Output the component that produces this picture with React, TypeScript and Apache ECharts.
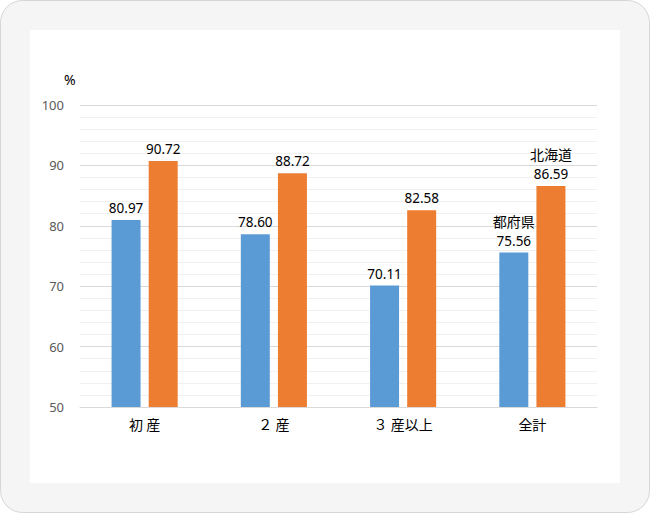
import React, { useEffect, useRef } from "react";
import * as echarts from "echarts";

const categories = ["初 産", "２ 産", "３ 産以上", "全計"];
const prefectures = [80.97, 78.6, 70.11, 75.56];
const hokkaido = [90.72, 88.72, 82.58, 86.59];
const seriesNames = ["都府県", "北海道"];
const yTicks = { min: 50, max: 100, interval: 10 };

const FONT = "'Noto Sans', 'Noto Sans CJK JP', sans-serif";
const CJK = "'Noto Sans CJK JP', sans-serif";

export default function App() {
  const ref = useRef<HTMLDivElement>(null);
  useEffect(() => {
    const chart = echarts.init(ref.current!, null, { renderer: "svg" });
    const lastIdx = categories.length - 1;
    const mkLabel = (name: string) => ({
      show: true,
      position: "top",
      distance: 3,
      color: "#000",
      fontSize: 13.5,
      fontFamily: FONT,
      lineHeight: 18,
      formatter: (p: any) =>
        p.dataIndex === lastIdx
          ? `{n|${name}}\n${Number(p.value).toFixed(2)}`
          : Number(p.value).toFixed(2),
      rich: { n: { fontSize: 14, fontWeight: "normal", color: "#000", fontFamily: CJK, lineHeight: 21 } },
    });
    chart.setOption({
      animation: false,
      textStyle: { fontFamily: FONT },
      graphic: [
        {
          type: "rect",
          z: -10,
          silent: true,
          shape: { x: 0.5, y: 0.5, width: 649, height: 512, r: 22 },
          style: { fill: "#f5f5f5", stroke: "#d6d6d6", lineWidth: 1 },
        },
        {
          type: "rect",
          z: -9,
          silent: true,
          shape: { x: 30, y: 30, width: 590, height: 453 },
          style: { fill: "#ffffff" },
        },
        {
          type: "text",
          left: 64,
          top: 72,
          style: { text: "%", fontSize: 14, fontWeight: "normal", fill: "#000", fontFamily: FONT },
        },
      ],
      grid: { left: 80, right: 53, top: 105, bottom: 106 },
      xAxis: {
        type: "category",
        data: categories,
        axisLine: { lineStyle: { color: "#d9d9d9", width: 1 } },
        axisTick: { show: false },
        axisLabel: { color: "#000", fontSize: 14, margin: 10, fontFamily: CJK },
      },
      yAxis: {
        type: "value",
        min: yTicks.min,
        max: yTicks.max,
        interval: yTicks.interval,
        axisLine: { show: false },
        axisTick: { show: false },
        axisLabel: { color: "#595959", fontSize: 13, margin: 16, fontFamily: FONT },
        splitLine: { lineStyle: { color: "#d9d9d9", width: 1 } },
        minorTick: { show: false, splitNumber: 5 },
        minorSplitLine: { show: true, lineStyle: { color: "#f0f0f0", width: 1 } },
      },
      series: [
        {
          name: seriesNames[0],
          type: "bar",
          data: prefectures,
          barWidth: 29,
          barGap: "28%",
          itemStyle: { color: "#5b9bd5" },
          label: mkLabel(seriesNames[0]),
        },
        {
          name: seriesNames[1],
          type: "bar",
          data: hokkaido,
          barWidth: 29,
          itemStyle: { color: "#ed7d31" },
          label: mkLabel(seriesNames[1]),
        },
      ],
    });
    return () => chart.dispose();
  }, []);
  return (
    <div
      ref={ref}
      style={{ position: "absolute", left: 0, top: 0, width: 650, height: 513 }}
    />
  );
}
